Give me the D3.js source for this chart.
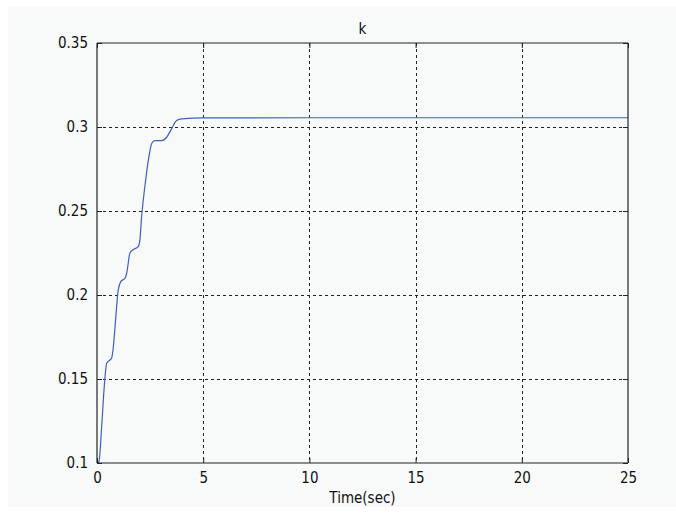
<!DOCTYPE html>
<html><head><meta charset="utf-8">
<script src="https://cdn.jsdelivr.net/npm/d3@7"></script>
<style>
html,body{margin:0;padding:0;background:#ffffff;}
text{font-family:"DejaVu Sans Condensed","Liberation Sans Narrow","Liberation Sans",sans-serif;font-size:15px;fill:#111;}
</style></head>
<body>
<svg id="c" width="676" height="513"></svg>
<script>
const chartTitle = "k";
const xLabel = "Time(sec)";
const xTicks = [0, 5, 10, 15, 20, 25];
const yTicks = [0.1, 0.15, 0.2, 0.25, 0.3, 0.35];
const yTickLabels = ["0.1", "0.15", "0.2", "0.25", "0.3", "0.35"];
const timeSec = [0, 0.09, 0.22, 0.33, 0.46, 0.61, 0.69, 0.77, 0.85, 1.0, 1.12, 1.32, 1.40, 1.55, 1.68, 1.94, 2.02, 2.10, 2.18, 2.31, 2.42, 2.58, 2.73, 3.05, 3.28, 3.52, 3.75, 3.99, 5.0, 10, 15, 20, 25];
const kValue = [0.1, 0.1008, 0.1216, 0.1435, 0.1595, 0.1613, 0.1625, 0.1692, 0.1811, 0.203, 0.208, 0.210, 0.2131, 0.225, 0.2268, 0.2288, 0.2328, 0.2466, 0.2566, 0.2704, 0.2804, 0.2903, 0.2919, 0.2919, 0.2939, 0.2992, 0.3038, 0.3048, 0.3054, 0.3055, 0.3055, 0.3055, 0.3055];

const svg = d3.select("#c");
svg.append("rect").attr("x", 8).attr("y", 6).attr("width", 668).attr("height", 501).attr("fill", "#f8f9f9");

const L = 97, R = 628, T = 43, B = 463;
const x = d3.scaleLinear().domain([0, 25]).range([L, R]);
const y = d3.scaleLinear().domain([0.1, 0.35]).range([B, T]);

const g = svg.append("g");
g.selectAll("line.vg").data(xTicks.slice(1, -1)).join("line")
  .attr("x1", d => Math.round(x(d)) + 0.5).attr("x2", d => Math.round(x(d)) + 0.5)
  .attr("y1", T).attr("y2", B)
  .attr("stroke", "#222").attr("stroke-width", 1).attr("stroke-dasharray", "3,3");
g.selectAll("line.hg").data(yTicks.slice(1, -1)).join("line")
  .attr("y1", d => Math.round(y(d)) + 0.5).attr("y2", d => Math.round(y(d)) + 0.5)
  .attr("x1", L).attr("x2", R)
  .attr("stroke", "#222").attr("stroke-width", 1).attr("stroke-dasharray", "3,3");

const line = d3.line().x((d, i) => x(timeSec[i])).y(d => y(d)).curve(d3.curveMonotoneX);
g.append("path").datum(kValue).attr("d", line).attr("fill", "none")
  .attr("stroke", "#3f5ec4").attr("stroke-width", 1.2);

const xAxis = d3.axisBottom(x).tickValues(xTicks).tickSize(-5).tickPadding(9).tickFormat(d3.format("d"));
const yAxis = d3.axisLeft(y).tickValues(yTicks).tickSize(-5).tickPadding(9).tickFormat((d, i) => yTickLabels[i]);
const xAxisTop = d3.axisTop(x).tickValues(xTicks).tickSize(-5).tickFormat("");
const yAxisRight = d3.axisRight(y).tickValues(yTicks).tickSize(-5).tickFormat("");

function style(sel) {
  sel.select(".domain").attr("stroke", "#222").attr("stroke-width", 1.2);
  sel.selectAll(".tick line").attr("stroke", "#222");
  sel.selectAll(".tick text").attr("fill", "#111").style("font-size", "15px")
    .style("font-family", '"DejaVu Sans Condensed","Liberation Sans Narrow",sans-serif');
}
svg.append("g").attr("transform", `translate(0,${B})`).call(xAxis).call(style)
  .call(s => s.select(".domain").attr("d", `M${L},0H${R}`));
svg.append("g").attr("transform", `translate(${L},0)`).call(yAxis).call(style)
  .call(s => s.select(".domain").attr("d", `M0,${T}V${B}`));
svg.append("g").attr("transform", `translate(0,${T})`).call(xAxisTop).call(style)
  .call(s => s.select(".domain").attr("d", `M${L},0H${R}`));
svg.append("g").attr("transform", `translate(${R},0)`).call(yAxisRight).call(style)
  .call(s => s.select(".domain").attr("d", `M0,${T}V${B}`));

svg.append("text").attr("x", (L + R) / 2).attr("y", 34).attr("text-anchor", "middle").text(chartTitle);
svg.append("text").attr("x", (L + R) / 2).attr("y", 503).attr("text-anchor", "middle").text(xLabel);
</script>
</body></html>
